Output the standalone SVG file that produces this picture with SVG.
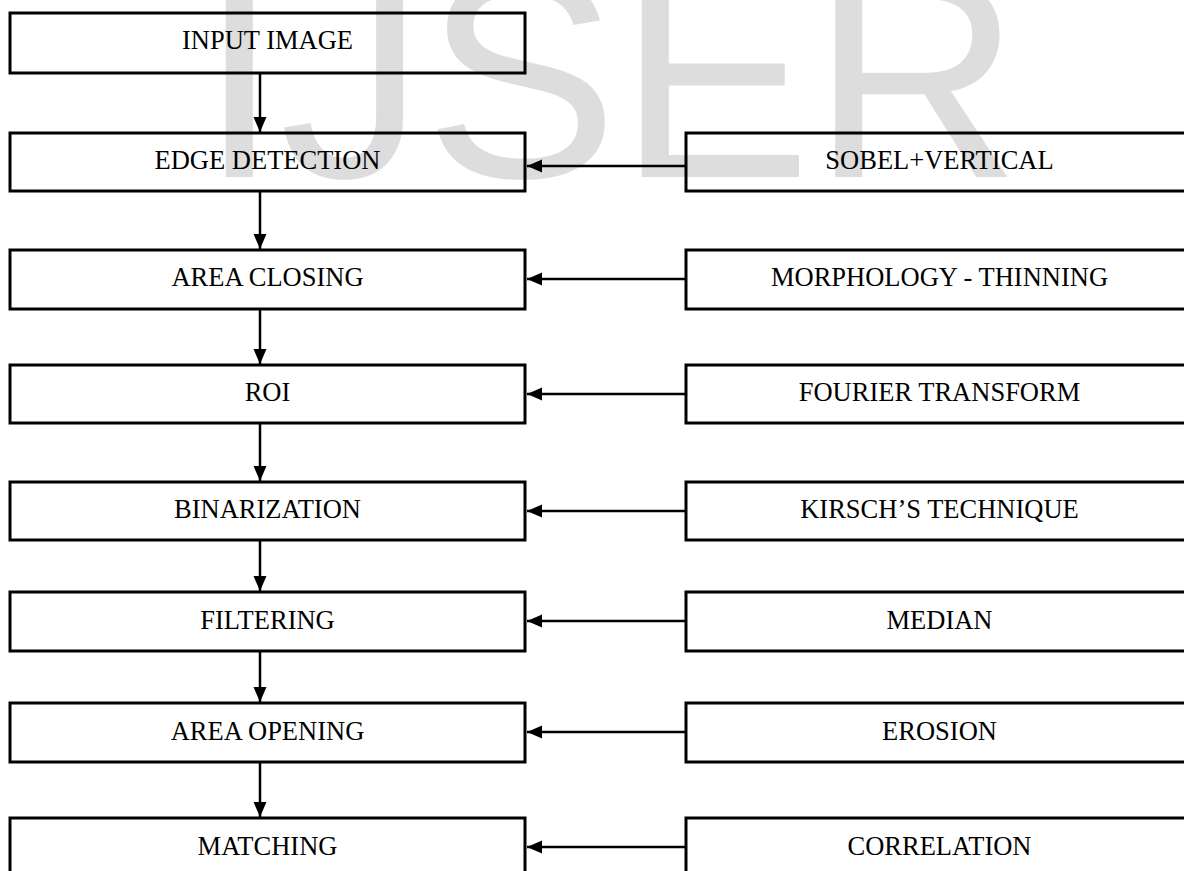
<svg xmlns="http://www.w3.org/2000/svg" width="1184" height="871" viewBox="0 0 1184 871">
<style>
.box{fill:none;stroke:#000;stroke-width:3}
.lbl{font-family:"Liberation Serif","Times New Roman",serif;font-size:26.5px;fill:#000;text-anchor:middle}
.wm{font-family:"Liberation Sans",Arial,sans-serif;font-size:290px;fill:#dddddd}
.ln{stroke:#000;stroke-width:2.5;fill:none}
</style>
<defs>
<marker id="ah" markerUnits="userSpaceOnUse" markerWidth="16" markerHeight="16" viewBox="0 0 16 16" refX="15" refY="8" orient="auto">
<path d="M0,1.5 L15,8 L0,14.5 Z" fill="#000"/>
</marker>
</defs>
<rect width="1184" height="871" fill="#fff"/>
<text class="wm" x="199" y="177">IJSER</text>
<g id="n-input"><rect class="box" x="10" y="13" width="515" height="60"/><text class="lbl" x="267.5" y="49">INPUT IMAGE</text></g>
<g id="n-edge"><rect class="box" x="10" y="133" width="515" height="58"/><text class="lbl" x="267.5" y="169">EDGE DETECTION</text></g>
<g id="n-closing"><rect class="box" x="10" y="250" width="515" height="59"/><text class="lbl" x="267.5" y="286">AREA CLOSING</text></g>
<g id="n-roi"><rect class="box" x="10" y="365" width="515" height="58"/><text class="lbl" x="267.5" y="401">ROI</text></g>
<g id="n-bin"><rect class="box" x="10" y="482" width="515" height="58"/><text class="lbl" x="267.5" y="518">BINARIZATION</text></g>
<g id="n-filter"><rect class="box" x="10" y="592" width="515" height="59"/><text class="lbl" x="267.5" y="629">FILTERING</text></g>
<g id="n-opening"><rect class="box" x="10" y="703" width="515" height="59"/><text class="lbl" x="267.5" y="740">AREA OPENING</text></g>
<g id="n-matching"><rect class="box" x="10" y="818" width="515" height="60"/><text class="lbl" x="267.5" y="855">MATCHING</text></g>
<g id="n-sobel"><rect class="box" x="686" y="133" width="507" height="58"/><text class="lbl" x="939.5" y="169">SOBEL+VERTICAL</text></g>
<g id="n-morph"><rect class="box" x="686" y="250" width="507" height="59"/><text class="lbl" x="939.5" y="286">MORPHOLOGY - THINNING</text></g>
<g id="n-fourier"><rect class="box" x="686" y="365" width="507" height="58"/><text class="lbl" x="939.5" y="401">FOURIER TRANSFORM</text></g>
<g id="n-kirsch"><rect class="box" x="686" y="482" width="507" height="58"/><text class="lbl" x="939.5" y="518">KIRSCH’S TECHNIQUE</text></g>
<g id="n-median"><rect class="box" x="686" y="592" width="507" height="59"/><text class="lbl" x="939.5" y="629">MEDIAN</text></g>
<g id="n-erosion"><rect class="box" x="686" y="703" width="507" height="59"/><text class="lbl" x="939.5" y="740">EROSION</text></g>
<g id="n-correlation"><rect class="box" x="686" y="818" width="507" height="60"/><text class="lbl" x="939.5" y="855">CORRELATION</text></g>
<g id="connectors">
<line class="ln" x1="260" y1="74" x2="260" y2="132" marker-end="url(#ah)"/>
<line class="ln" x1="260" y1="192" x2="260" y2="249" marker-end="url(#ah)"/>
<line class="ln" x1="260" y1="310" x2="260" y2="364" marker-end="url(#ah)"/>
<line class="ln" x1="260" y1="424" x2="260" y2="481" marker-end="url(#ah)"/>
<line class="ln" x1="260" y1="541" x2="260" y2="591" marker-end="url(#ah)"/>
<line class="ln" x1="260" y1="652" x2="260" y2="702" marker-end="url(#ah)"/>
<line class="ln" x1="260" y1="763" x2="260" y2="817" marker-end="url(#ah)"/>
<line class="ln" x1="685" y1="166" x2="527" y2="166" marker-end="url(#ah)"/>
<line class="ln" x1="685" y1="279" x2="527" y2="279" marker-end="url(#ah)"/>
<line class="ln" x1="685" y1="394" x2="527" y2="394" marker-end="url(#ah)"/>
<line class="ln" x1="685" y1="511" x2="527" y2="511" marker-end="url(#ah)"/>
<line class="ln" x1="685" y1="621" x2="527" y2="621" marker-end="url(#ah)"/>
<line class="ln" x1="685" y1="732" x2="527" y2="732" marker-end="url(#ah)"/>
<line class="ln" x1="685" y1="847" x2="527" y2="847" marker-end="url(#ah)"/>
</g>
</svg>
